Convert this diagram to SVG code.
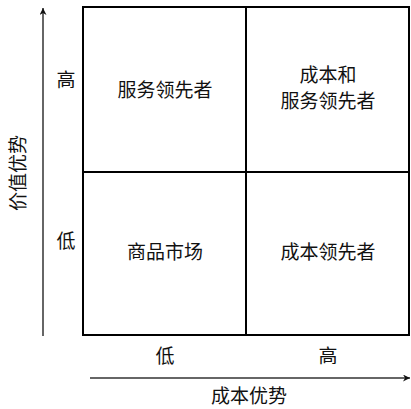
<svg xmlns="http://www.w3.org/2000/svg" width="411" height="409" viewBox="0 0 411 409">
<style>
text{font-family:"Noto Sans CJK SC","Noto Sans",sans-serif;font-size:19px;fill:#111;text-anchor:middle}
.cell{fill:#fff;stroke:#000;stroke-width:2}
.ax{stroke:#333;stroke-width:1.5;fill:none}
</style>
<defs>
<marker id="ah" viewBox="0 0 10 10" refX="10" refY="5" markerWidth="7" markerHeight="7" markerUnits="userSpaceOnUse" orient="auto"><path d="M0,0L10,5L0,10L3,5Z" fill="#111"/></marker>
</defs>
<rect width="411" height="409" fill="#fff"/>
<g id="connectors">
<line class="ax" x1="43" y1="336" x2="43" y2="8" marker-end="url(#ah)"/>
<line class="ax" x1="90" y1="378" x2="410" y2="378" marker-end="url(#ah)"/>
</g>
<g id="q1"><rect class="cell" x="83" y="7" width="163" height="165"/><text x="165" y="97">服务领先者</text></g>
<g id="q2"><rect class="cell" x="246" y="7" width="163" height="165"/><text x="328" y="82">成本和</text><text x="328" y="108">服务领先者</text></g>
<g id="q3"><rect class="cell" x="83" y="172" width="163" height="163"/><text x="165" y="259">商品市场</text></g>
<g id="q4"><rect class="cell" x="246" y="172" width="163" height="163"/><text x="328" y="259">成本领先者</text></g>
<g id="labels">
<text x="66" y="87">高</text>
<text x="66" y="248">低</text>
<text x="165" y="363">低</text>
<text x="328" y="363">高</text>
<text x="249" y="403">成本优势</text>
<text transform="translate(25,173) rotate(-90)">价值优势</text>
</g>
</svg>
